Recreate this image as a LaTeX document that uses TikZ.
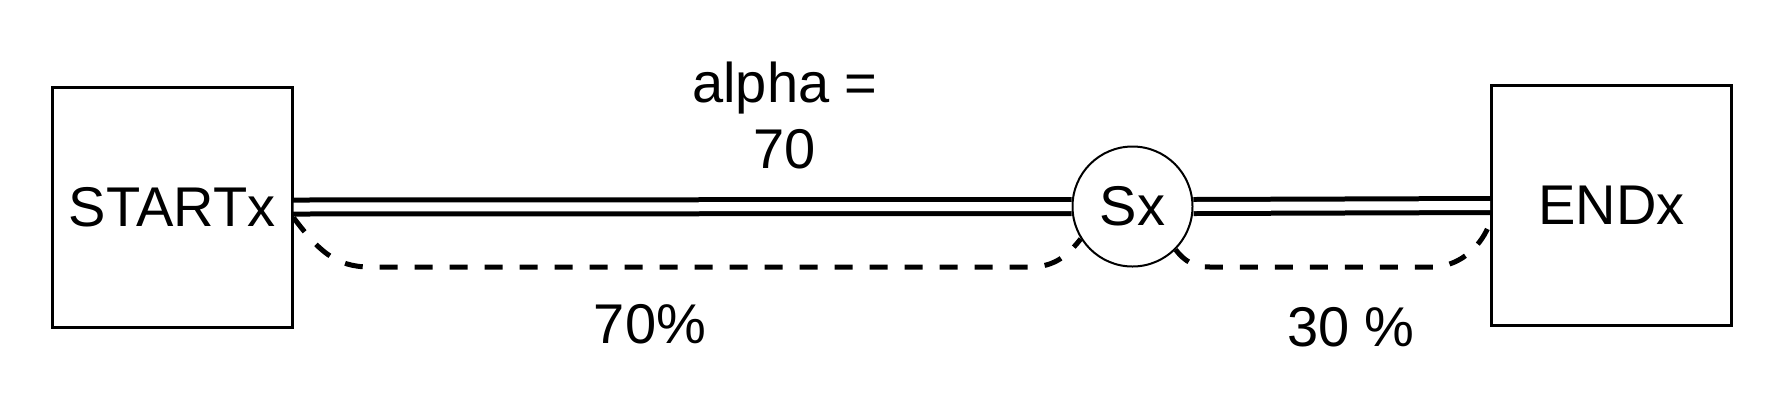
\documentclass[tikz,border=0pt]{standalone}
\usepackage{fontspec}
\setmainfont{Liberation Sans}
\usetikzlibrary{positioning}

\begin{document}
\begin{tikzpicture}[
            x=0.5pt, y=-0.5pt,
            every node/.style={font=\fontsize{28}{33}\selectfont},
            box style/.style={draw, line width=1.5pt, minimum width=120pt, minimum height=120pt, inner sep=0pt},
            split style/.style={circle, draw, line width=1pt, minimum size=60pt, inner sep=0pt},
            link style/.style={double, line width=2.5pt, double distance=4.5pt},
            flow style/.style={line width=2.5pt, dash pattern=on 9pt off 8.5pt}
        ]

        \useasboundingbox (0,0) rectangle (1783,409);

        \node[box style] (START) at (172,207) {STARTx};
        \node[split style] (SX) at (1132.5,206.5) {Sx};
        \node[box style] (END) at (1611.5,205.5) {ENDx};

        \draw[link style] (START.east) -- (SX.west);
        \draw[link style] (SX.east) -- (END.west);

        \draw[flow style] (START.-5) .. controls (318,250) and (335,267) .. (370,267)
            -- (1030,267) .. controls (1055,267) and (1068,255) .. (SX.212);
        \draw[flow style] (SX.-45) .. controls (1185,262) and (1195,267) .. (1210,267)
            -- (1435,267) .. controls (1462,265) and (1482,245) .. (END.188);

        \node[align=center] (ALPHA) at (785,115) {alpha =\\70};
        \node (LEFT) at (650,324) {70\%};
        \node (RIGHT) at (1351,327) {30 \%};
        \end{tikzpicture}
\end{document}
